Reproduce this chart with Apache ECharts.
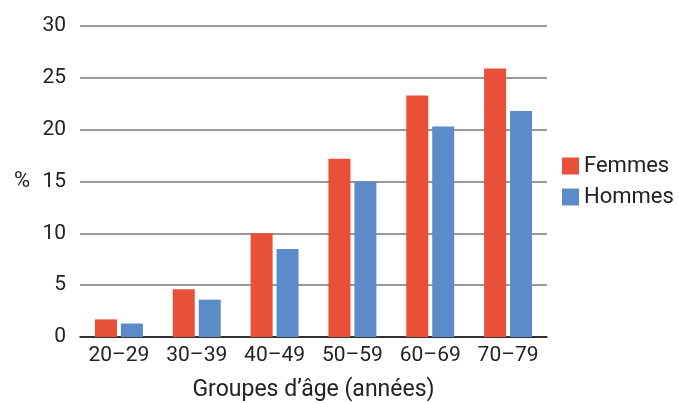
<!DOCTYPE html>
<html><head><meta charset="utf-8">
<script src="https://cdn.jsdelivr.net/npm/echarts@6/dist/echarts.min.js"></script>
<style>html,body{margin:0;padding:0;background:#fff}#c{width:679px;height:403px}</style>
</head><body><div id="c"></div>
<script>
var categories = ['20–29','30–39','40–49','50–59','60–69','70–79'];
var femmes = [1.7, 4.6, 10.0, 17.2, 23.3, 25.9];
var hommes = [1.3, 3.6, 8.5, 15.0, 20.3, 21.8];
var seriesNames = ['Femmes','Hommes'];
var xTitle = 'Groupes d’âge (années)';
var yTitle = '%';
var font = 'Roboto';
var chart = echarts.init(document.getElementById('c'));
chart.setOption({
  animation:false,
  textStyle:{fontFamily:font},
  grid:{left:80,right:132,top:26,bottom:66,containLabel:false,outerBoundsMode:'none'},
  legend:{orient:'vertical',left:557,top:150,itemWidth:17,itemHeight:17,itemGap:9,icon:'rect',
    textStyle:{fontSize:22,color:'#222',fontFamily:font},data:seriesNames},
  xAxis:{type:'category',data:categories,
    axisLine:{lineStyle:{color:'#111',width:1.5}},axisTick:{show:false},
    axisLabel:{fontSize:21,color:'#222',margin:8,interval:0},
    name:xTitle,nameLocation:'middle',nameGap:42,nameTextStyle:{fontSize:23,color:'#222'}},
  yAxis:{type:'value',min:0,max:30,interval:5,
    axisLine:{show:false},axisTick:{show:false},
    axisLabel:{fontSize:21,color:'#222',margin:14},
    splitLine:{lineStyle:{color:'#777',width:1.5}},
    name:yTitle,nameLocation:'middle',nameRotate:0,nameGap:50,nameTextStyle:{fontSize:22,color:'#222'}},
  series:[
    {name:seriesNames[0],type:'bar',data:femmes,barWidth:22,barGap:'18%',itemStyle:{color:'#E8503A'}},
    {name:seriesNames[1],type:'bar',data:hommes,barWidth:22,itemStyle:{color:'#5B8BC9'}}
  ]
});
</script></body></html>
